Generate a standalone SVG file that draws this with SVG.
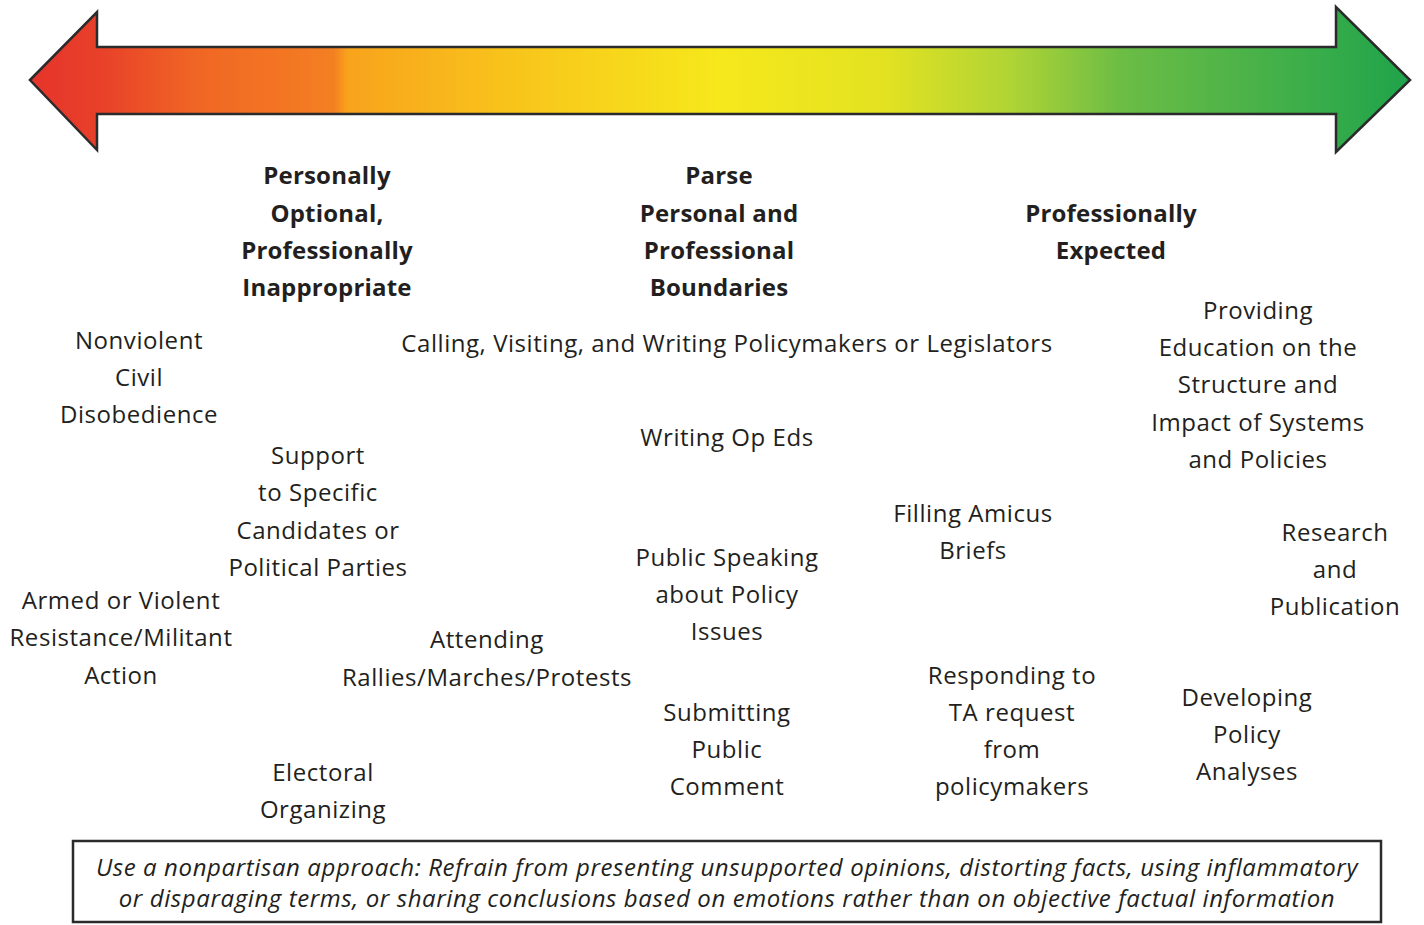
<svg xmlns="http://www.w3.org/2000/svg" width="1424" height="925" viewBox="0 0 1424 925">
<defs>
<linearGradient id="spectrum" gradientUnits="userSpaceOnUse" x1="30" y1="0" x2="1410" y2="0">
<stop offset="0" stop-color="#e6342b"/>
<stop offset="0.05" stop-color="#e8402a"/>
<stop offset="0.12" stop-color="#f06624"/>
<stop offset="0.22" stop-color="#f47f22"/>
<stop offset="0.23" stop-color="#f8a31c"/>
<stop offset="0.36" stop-color="#f8c71b"/>
<stop offset="0.5" stop-color="#f6e81b"/>
<stop offset="0.62" stop-color="#e2e221"/>
<stop offset="0.71" stop-color="#b0d435"/>
<stop offset="0.79" stop-color="#6cbd45"/>
<stop offset="0.93" stop-color="#3aad4a"/>
<stop offset="1" stop-color="#1fa34a"/>
</linearGradient>
<style>
text{font-family:"Open Sans","Liberation Sans",sans-serif;fill:#231f20;text-anchor:middle;font-size:24px;letter-spacing:0.55px}
.h{font-weight:bold;letter-spacing:0.2px}
.note{font-style:italic;font-size:24px;letter-spacing:0.6px}
</style>
</defs>
<rect width="1424" height="925" fill="#ffffff"/>
<g id="scale-arrow">
<path d="M30,80 L97,12 L97,47 L1336,47 L1336,7 L1410,80 L1336,152 L1336,114 L97,114 L97,150 Z" fill="url(#spectrum)" stroke="#2b2b2b" stroke-width="2.5" stroke-linejoin="miter"/>
</g>
<g id="connectors"></g>
<g id="header-left">
<text class="h" x="327" y="184">Personally</text>
<text class="h" x="327" y="222">Optional,</text>
<text class="h" x="327" y="259">Professionally</text>
<text class="h" x="327" y="296">Inappropriate</text>
</g>
<g id="header-middle">
<text class="h" x="719" y="184">Parse</text>
<text class="h" x="719" y="222">Personal and</text>
<text class="h" x="719" y="259">Professional</text>
<text class="h" x="719" y="296">Boundaries</text>
</g>
<g id="header-right">
<text class="h" x="1111" y="222">Professionally</text>
<text class="h" x="1111" y="259">Expected</text>
</g>
<g id="nonviolent">
<text x="139" y="349">Nonviolent</text>
<text x="139" y="386">Civil</text>
<text x="139" y="423">Disobedience</text>
</g>
<g id="calling">
<text x="727" y="352">Calling, Visiting, and Writing Policymakers or Legislators</text>
</g>
<g id="providing-education">
<text x="1258" y="319">Providing</text>
<text x="1258" y="356">Education on the</text>
<text x="1258" y="393">Structure and</text>
<text x="1258" y="431">Impact of Systems</text>
<text x="1258" y="468">and Policies</text>
</g>
<g id="op-eds">
<text x="727" y="446">Writing Op Eds</text>
</g>
<g id="support-candidates">
<text x="318" y="464">Support</text>
<text x="318" y="501">to Specific</text>
<text x="318" y="539">Candidates or</text>
<text x="318" y="576">Political Parties</text>
</g>
<g id="amicus">
<text x="973" y="522">Filling Amicus</text>
<text x="973" y="559">Briefs</text>
</g>
<g id="research">
<text x="1335" y="541">Research</text>
<text x="1335" y="578">and</text>
<text x="1335" y="615">Publication</text>
</g>
<g id="public-speaking">
<text x="727" y="566">Public Speaking</text>
<text x="727" y="603">about Policy</text>
<text x="727" y="640">Issues</text>
</g>
<g id="armed">
<text x="121" y="609">Armed or Violent</text>
<text x="121" y="646">Resistance/Militant</text>
<text x="121" y="684">Action</text>
</g>
<g id="rallies">
<text x="487" y="648">Attending</text>
<text x="487" y="686">Rallies/Marches/Protests</text>
</g>
<g id="ta-request">
<text x="1012" y="684">Responding to</text>
<text x="1012" y="721">TA request</text>
<text x="1012" y="758">from</text>
<text x="1012" y="795">policymakers</text>
</g>
<g id="policy-analyses">
<text x="1247" y="706">Developing</text>
<text x="1247" y="743">Policy</text>
<text x="1247" y="780">Analyses</text>
</g>
<g id="public-comment">
<text x="727" y="721">Submitting</text>
<text x="727" y="758">Public</text>
<text x="727" y="795">Comment</text>
</g>
<g id="electoral">
<text x="323" y="781">Electoral</text>
<text x="323" y="818">Organizing</text>
</g>
<g id="note">
<rect x="73" y="841" width="1308" height="81" fill="#ffffff" stroke="#2b2b2b" stroke-width="2.5"/>
<text class="note" x="727" y="876">Use a nonpartisan approach: Refrain from presenting unsupported opinions, distorting facts, using inflammatory</text>
<text class="note" x="727" y="907">or disparaging terms, or sharing conclusions based on emotions rather than on objective factual information</text>
</g>
</svg>
